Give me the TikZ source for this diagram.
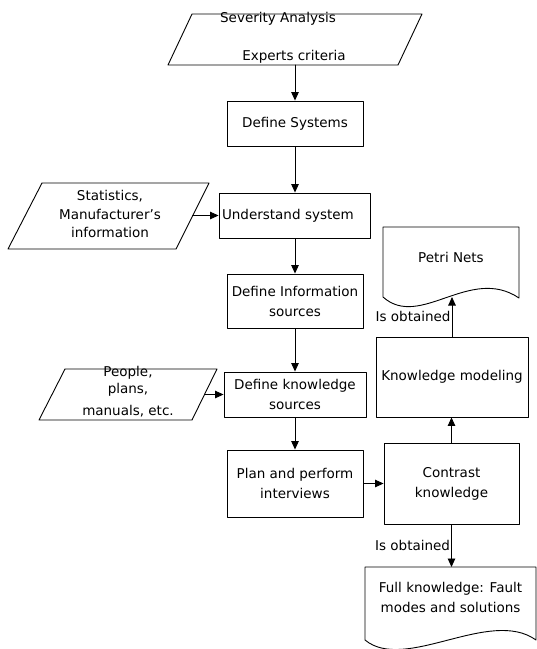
\documentclass[tikz,border=0pt]{standalone}
\usepackage{fontspec}
\setmainfont{DejaVu Sans}
\usetikzlibrary{arrows.meta}
\tikzset{
  stepbox/.style={rectangle, draw, align=center, inner sep=2pt},
  doctext/.style={align=center, inner sep=1pt},
  arr/.style={-{Triangle[length=8.5pt,width=7.5pt]}},
  every picture/.style={line cap=round, line join=round}
}

\begin{document}
\begin{tikzpicture}[x=1pt, y=-1pt, line width=0.9pt, font=\fontsize{13.5}{20}\selectfont]
  \useasboundingbox (0,0) rectangle (537,649);

  % inputs
  \draw (168,65) -- (192,14) -- (422,14) -- (398,65) -- cycle;
  \node (sevname) at (278,19) {Severity Analysis};
  \node (sevcrit) at (294,57) {Experts criteria};
  \coordinate (sevout) at (295,65);
  \draw (8,249) -- (42,183) -- (209,183) -- (176,249) -- cycle;
  \node[doctext, font=\fontsize{13.5}{18.5}\selectfont] (stats) at (110,214) {Statistics,\\Manufacturer’s\\information};
  \coordinate (statsout) at (192.5,215.5);
  \draw (39,420) -- (65,369) -- (217,369) -- (192,420) -- cycle;
  \node[doctext, font=\fontsize{13.5}{17}\selectfont] (people) at (128,392) {People,\\plans,\\[5pt]manuals, etc.};
  \coordinate (peopleout) at (204.5,394.5);

  % steps
  \node[stepbox, minimum width=136pt, minimum height=45pt] (defsys) at (295,123.5) {Define Systems};
  \node[stepbox, minimum width=151pt, minimum height=45pt, text width=145pt, align=left] (undsys) at (294.5,215.5) {Understand system};
  \node[stepbox, minimum width=136pt, minimum height=54pt] (definfo) at (295,301) {Define Information\\sources};
  \node[stepbox, minimum width=142pt, minimum height=45pt] (defknow) at (295,394.5) {Define knowledge\\sources};
  \node[stepbox, minimum width=136pt, minimum height=67pt] (plan) at (295,483.5) {Plan and perform\\interviews};
  \node[stepbox, minimum width=135pt, minimum height=81pt] (contrast) at (451.5,483.5) {Contrast\\knowledge};
  \node[stepbox, minimum width=152pt, minimum height=80pt] (kmod) at (452,377) {Knowledge modeling};

  % documents
  \draw (383,297) -- (383,227) -- (519,227) -- (519,298)
        .. controls (470,265) and (420,330) .. (383,297);
  \node[doctext] (petri) at (451,257) {Petri Nets};
  \coordinate (petriend) at (451,297);
  \draw (365,640) -- (365,567) -- (536,567) -- (536,640)
        .. controls (490,607) and (405,673) .. (365,640);
  \node[doctext] (full) at (450.5,597.5) {Full knowledge: Fault\\modes and solutions};
  \coordinate (fulltop) at (451.5,567);

  % flow
  \draw[arr] (sevout) -- (sevout |- defsys.north);
  \draw[arr] (defsys.south) -- (defsys.south |- undsys.north);
  \draw[arr] (statsout) -- (statsout -| undsys.west);
  \draw[arr] (undsys.south -| definfo.north) -- (definfo.north);
  \draw[arr] (definfo.south) -- (definfo.south |- defknow.north);
  \draw[arr] (peopleout) -- (peopleout -| defknow.west);
  \draw[arr] (defknow.south) -- (defknow.south |- plan.north);
  \draw[arr] (plan.east) -- (plan.east -| contrast.west);
  \draw[arr] (contrast.north) -- (contrast.north |- kmod.south);
  \draw[arr] (kmod.north) -- node[left, inner sep=1pt] {Is obtained} (kmod.north |- petriend);
  \draw[arr] (contrast.south) -- node[left, inner sep=1pt] {Is obtained} (contrast.south |- fulltop);
\end{tikzpicture}
\end{document}
